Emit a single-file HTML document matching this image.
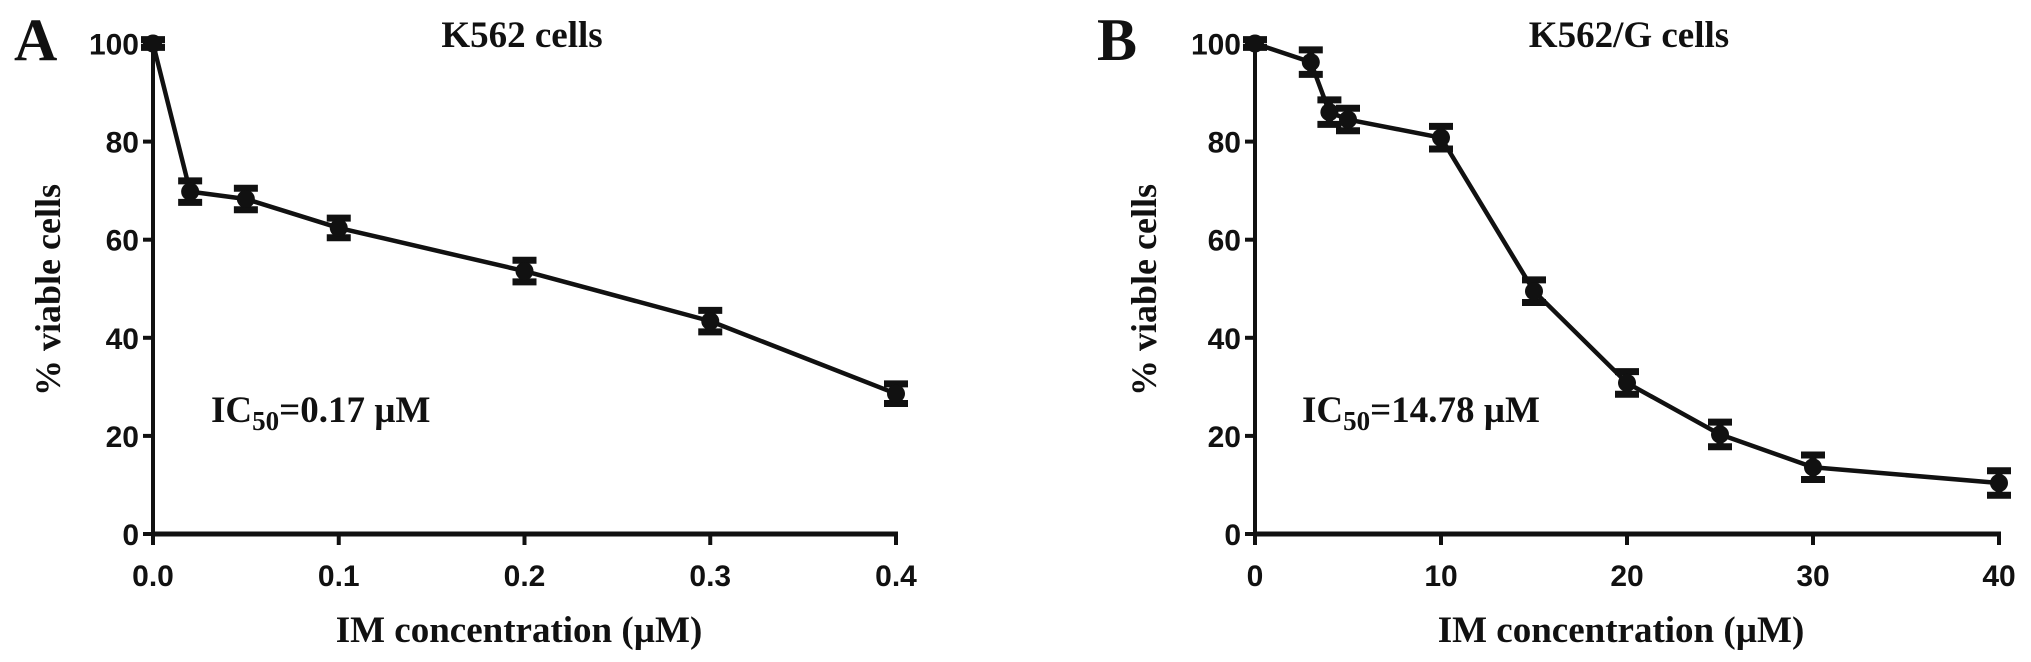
<!DOCTYPE html>
<html><head><meta charset="utf-8">
<style>
html,body{margin:0;padding:0;background:#fff;width:2031px;height:662px;overflow:hidden}
svg{display:block}
.tick{font-family:"Liberation Sans",Arial,sans-serif;font-weight:bold;font-size:30px;fill:#111}
.serif{font-family:"Liberation Serif","Times New Roman",serif;font-weight:bold;fill:#111}
</style></head>
<body>
<svg id="chart" width="2031" height="662" viewBox="0 0 2031 662" xmlns="http://www.w3.org/2000/svg"></svg>
<script>
// Panel A data
const catsA = [0, 0.02, 0.05, 0.1, 0.2, 0.3, 0.4];
const valsA = [100, 69.8, 68.3, 62.4, 53.6, 43.4, 28.6];
const errA = [0.8, 2.2, 2.2, 2.0, 2.2, 2.2, 2.0];
const xTicksA = ["0.0", "0.1", "0.2", "0.3", "0.4"];
const xTickValsA = [0, 0.1, 0.2, 0.3, 0.4];
// Panel B data
const catsB = [0, 3, 4, 5, 10, 15, 20, 25, 30, 40];
const valsB = [100, 96.2, 86, 84.5, 80.8, 49.5, 30.8, 20.3, 13.6, 10.4];
const errB = [0.8, 2.5, 2.5, 2.3, 2.3, 2.3, 2.3, 2.5, 2.5, 2.5];
const xTicksB = ["0", "10", "20", "30", "40"];
const xTickValsB = [0, 10, 20, 30, 40];
const yTicks = [0, 20, 40, 60, 80, 100];

const svg = document.getElementById('chart');
const NS = 'http://www.w3.org/2000/svg';
function mk(tag, attrs, parent) {
  const e = document.createElementNS(NS, tag);
  for (const k in attrs) e.setAttribute(k, attrs[k]);
  (parent || svg).appendChild(e);
  return e;
}
const Y0 = 534, Y100 = 43.5;
function yScale(v) { return Y0 - (Y0 - Y100) * v / 100; }

function panel(p) {
  const g = mk('g', {});
  
  
  const xs = v => p.x0 + (p.x1 - p.x0) * (v - p.min) / (p.max - p.min);
  const L = mk('text', {x: p.letterX, y: 60, class: 'serif', 'font-size': 60}, g);
  L.textContent = p.letter;
  
  
  const t = mk('text', {x: p.titleX, y: 47, class: 'serif', 'font-size': 37, 'text-anchor': 'middle'}, g);
  t.textContent = p.title;
  
  
  const ya = mk('line', {x1: p.x0, y1: Y100 - 2, x2: p.x0, y2: Y0 + 2, stroke: '#111', 'stroke-width': 4}, g);
  
  
  const xa = mk('line', {x1: p.x0 - 2, y1: Y0, x2: p.x1 + 2, y2: Y0, stroke: '#111', 'stroke-width': 5}, g);
  
  
  yTicks.forEach(v => {
    const y = yScale(v);
    const tk = mk('line', {x1: p.x0 - 10, y1: y, x2: p.x0, y2: y, stroke: '#111', 'stroke-width': 4}, g);
    
    
    const tl = mk('text', {x: p.x0 - 14, y: y + 11, class: 'tick', 'text-anchor': 'end'}, g);
    tl.textContent = v;
    
    
  });
  p.xTickVals.forEach((v, i) => {
    const x = xs(v);
    const tk = mk('line', {x1: x, y1: Y0, x2: x, y2: Y0 + 11, stroke: '#111', 'stroke-width': 4}, g);
    
    
    const tl = mk('text', {x: x, y: 586, class: 'tick', 'text-anchor': 'middle'}, g);
    tl.textContent = p.xTicks[i];
    
    
  });
  const xt = mk('text', {x: p.xTitleX, y: 642, class: 'serif', 'font-size': 37, 'text-anchor': 'middle'}, g);
  xt.textContent = 'IM concentration (\u00b5M)';
  
  
  const yt = mk('text', {x: 0, y: 0, class: 'serif', 'font-size': 36, 'text-anchor': 'middle', transform: `translate(${p.yTitleX},290) rotate(-90)`}, g);
  yt.textContent = '% viable cells';
  
  
  const ic = mk('text', {x: p.icX, y: 422, class: 'serif', 'font-size': 37}, g);
  
  
  const s1 = mk('tspan', {}, ic); s1.textContent = 'IC';
  const s2 = mk('tspan', {'font-size': 27, dy: 8}, ic); s2.textContent = '50';
  const s3 = mk('tspan', {dy: -8}, ic); s3.textContent = '=' + p.ic;
  const pts = p.cats.map((c, i) => xs(c) + ',' + yScale(p.vals[i])).join(' ');
  const pl = mk('polyline', {points: pts, fill: 'none', stroke: '#111', 'stroke-width': 4.5, 'stroke-linejoin': 'round'}, g);
  
  
  p.cats.forEach((c, i) => {
    const x = xs(c), y = yScale(p.vals[i]);
    const yt = yScale(p.vals[i] + p.err[i]), yb = yScale(p.vals[i] - p.err[i]);
    const eb = mk('path', {d: `M${x},${yt}V${yb}M${x - 12},${yt}H${x + 12}M${x - 12},${yb}H${x + 12}`, stroke: '#111', 'stroke-width': 7, fill: 'none'}, g);
    
    
    const pt = mk('circle', {cx: x, cy: y, r: 9, fill: '#111'}, g);
    
    
  });
}

panel({name: 'panel-a', letter: 'A', letterX: 14, title: 'K562 cells', titleX: 522,
  x0: 153, x1: 896, min: 0, max: 0.4, xTicks: xTicksA, xTickVals: xTickValsA,
  cats: catsA, vals: valsA, err: errA, xTitleX: 519, yTitleX: 60, icX: 211, ic: '0.17 \u00b5M'});
panel({name: 'panel-b', letter: 'B', letterX: 1097, title: 'K562/G cells', titleX: 1629,
  x0: 1255, x1: 1999, min: 0, max: 40, xTicks: xTicksB, xTickVals: xTickValsB,
  cats: catsB, vals: valsB, err: errB, xTitleX: 1621, yTitleX: 1156, icX: 1302, ic: '14.78 \u00b5M'});
</script>
</body></html>
